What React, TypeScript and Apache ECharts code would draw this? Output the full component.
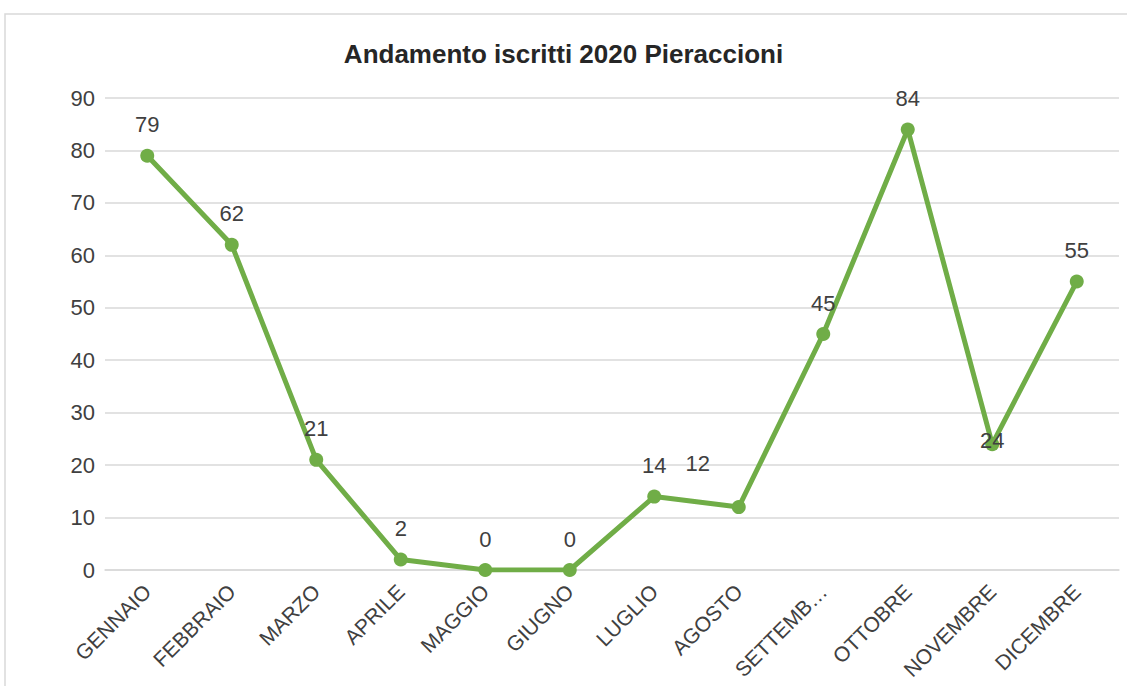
import React, { useEffect, useRef } from "react";
import * as echarts from "echarts";

const title = "Andamento iscritti 2020 Pieraccioni";
const months = [
  "GENNAIO", "FEBBRAIO", "MARZO", "APRILE", "MAGGIO", "GIUGNO",
  "LUGLIO", "AGOSTO", "SETTEMBRE", "OTTOBRE", "NOVEMBRE", "DICEMBRE",
];
const iscritti = [79, 62, 21, 2, 0, 0, 14, 12, 45, 84, 24, 55];
// label offsets (Excel placement quirks)
const labelOffsets: Record<number, [number, number]> = {
  7: [-41, -13],
  10: [0, 27],
};

export default function App() {
  const ref = useRef<HTMLDivElement>(null);
  useEffect(() => {
    if (!ref.current) return;
    const chart = echarts.init(ref.current, undefined, { renderer: "svg" });
    const font = "'Liberation Sans', Arial, sans-serif";
    chart.setOption({
      animation: false,
      backgroundColor: "#ffffff",
      title: {
        text: title,
        left: "center",
        top: 36,
        textStyle: { fontFamily: font, fontSize: 26, fontWeight: "bold", color: "#262626" },
      },
      graphic: [
        {
          type: "rect",
          shape: { x: 5, y: 14, width: 1140, height: 700 },
          style: { fill: "none", stroke: "#d9d9d9", lineWidth: 1.5 },
          silent: true,
        },
      ],
      grid: { left: 105, right: 8, top: 98, bottom: 116, containLabel: false },
      xAxis: {
        type: "category",
        data: months,
        boundaryGap: true,
        axisLine: { show: true, lineStyle: { color: "#d9d9d9", width: 1.5 } },
        axisTick: { show: false },
        axisLabel: {
          rotate: 45,
          interval: 0,
          margin: 18,
          fontFamily: font,
          fontSize: 21,
          color: "#404040",
          formatter: (v: string) => (v.length > 8 ? v.slice(0, 7) + "…" : v),
        },
      },
      yAxis: {
        type: "value",
        min: 0,
        max: 90,
        interval: 10,
        axisLine: { show: false },
        axisTick: { show: false },
        splitLine: { lineStyle: { color: "#d9d9d9", width: 1.5 } },
        axisLabel: { fontFamily: font, fontSize: 22, color: "#404040", margin: 10 },
      },
      series: [
        {
          type: "line",
          data: iscritti.map((v, i) =>
            labelOffsets[i] ? { value: v, label: { offset: labelOffsets[i] } } : v
          ),
          symbol: "circle",
          symbolSize: 14,
          lineStyle: { color: "#70AD47", width: 5 },
          itemStyle: { color: "#70AD47" },
          label: {
            show: true,
            position: "top",
            distance: 13,
            fontFamily: font,
            fontSize: 22,
            color: "#404040",
          },
        },
      ],
    });
    return () => chart.dispose();
  }, []);
  return (
    <div
      ref={ref}
      style={{ position: "fixed", left: 0, top: 0, width: 1127, height: 686 }}
    />
  );
}
